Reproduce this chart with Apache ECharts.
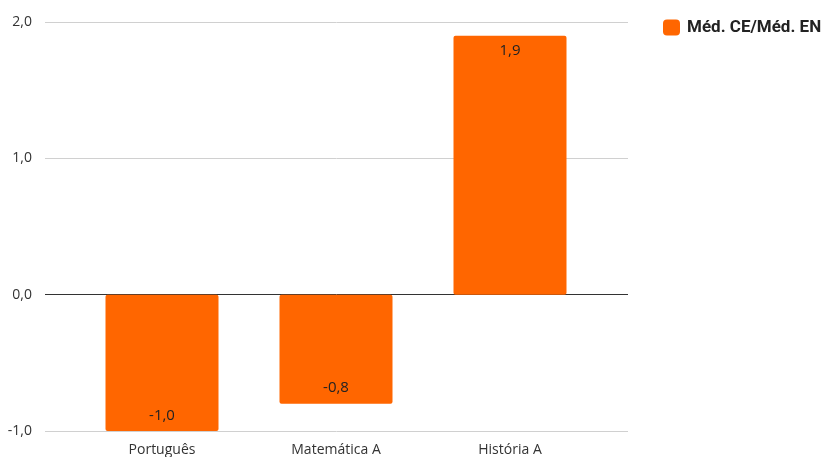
<!DOCTYPE html>
<html><head><meta charset="utf-8">
<script src="https://cdn.jsdelivr.net/npm/echarts@6/dist/echarts.min.js"></script>
<style>html,body{margin:0;padding:0;background:#fff}#c{width:826px;height:457px}</style>
</head><body><div id="c"></div>
<script>
const categories = ['Português', 'Matemática A', 'História A'];
const values = [-1.0, -0.8, 1.9];
const yTicks = [-1, 0, 1, 2];
const seriesName = 'Méd. CE/Méd. EN';
const fmt = v => Number(v).toFixed(1).replace('.', ',');
const chart = echarts.init(document.getElementById('c'));
const yMin = yTicks[0], yMax = yTicks[yTicks.length - 1];
chart.setOption({
  animation: false,
  textStyle: { fontFamily: 'Open Sans' },
  legend: {
    left: 658, top: 14, itemWidth: 17, itemHeight: 16, itemGap: 10,
    icon: 'roundRect',
    textStyle: { fontFamily: 'Roboto', fontWeight: 'bold', fontSize: 17, color: '#222', padding: [0, 0, 0, 2] },
    data: [seriesName]
  },
  grid: [
    { left: 45, right: 198, top: 22, bottom: 26 },
    { left: 75, right: 229, top: 22, bottom: 26 }
  ],
  xAxis: [
    { gridIndex: 0, type: 'value', min: 0, max: 1, show: false },
    {
      gridIndex: 1, type: 'category', data: categories,
      axisLine: { show: false, onZero: false }, axisTick: { show: false },
      splitLine: { show: false },
      axisLabel: { fontSize: 14, color: '#333', margin: 12 }
    }
  ],
  yAxis: [
    {
      gridIndex: 0, type: 'value', min: yMin, max: yMax, interval: 1,
      axisLabel: { fontSize: 14, color: '#333', formatter: fmt, margin: 13 },
      splitLine: { lineStyle: { color: yTicks.map(t => t === 0 ? '#333' : '#d0d0d0') } },
      axisLine: { show: false }, axisTick: { show: false }
    },
    {
      gridIndex: 1, type: 'value', min: yMin, max: yMax, interval: 1,
      show: false, splitLine: { show: false }
    }
  ],
  series: [{
    name: seriesName, type: 'bar', xAxisIndex: 1, yAxisIndex: 1,
    data: values.map(v => v < 0 ? { value: v, label: { position: 'insideBottom' } } : v),
    barWidth: 113,
    itemStyle: { color: '#ff6600', borderRadius: 2 },
    label: {
      show: true, fontSize: 15, color: '#222', formatter: p => fmt(p.value),
      position: 'insideTop', distance: 8
    }
  }]
});
</script></body></html>
